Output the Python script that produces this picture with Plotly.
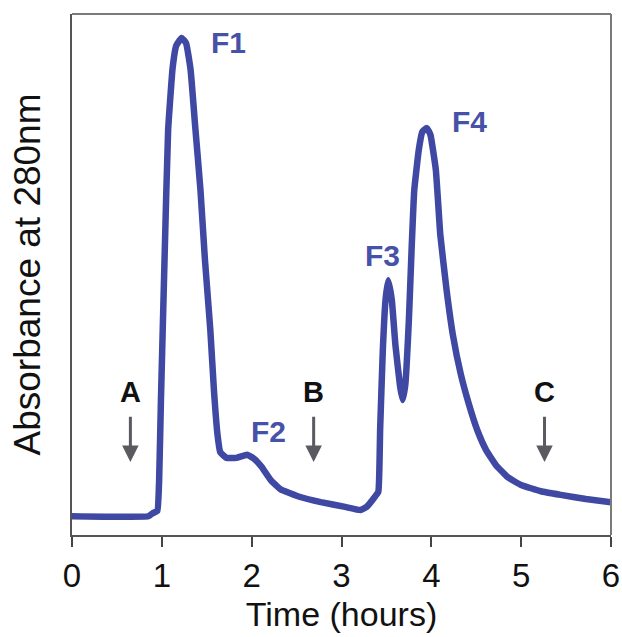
import plotly.graph_objects as go

# Chromatogram trace (time in hours, absorbance in arbitrary units)
time_h = [0.00, 0.85, 0.90, 0.95, 0.97, 0.99, 1.03, 1.07, 1.12, 1.16, 1.22, 1.27, 1.32, 1.37,
          1.43, 1.48, 1.54, 1.58, 1.62, 1.65, 1.72, 1.83, 1.95, 2.03, 2.11, 2.21, 2.32, 2.54,
          2.77, 3.04, 3.21, 3.28, 3.37, 3.41, 3.43, 3.46, 3.49, 3.52, 3.56, 3.60, 3.65, 3.68,
          3.71, 3.75, 3.78, 3.81, 3.86, 3.90, 3.95, 3.99, 4.05, 4.10, 4.17, 4.24, 4.33, 4.42,
          4.51, 4.61, 4.72, 4.85, 5.00, 5.22, 5.44, 5.72, 6.00]
absorbance = [0.036, 0.036, 0.042, 0.046, 0.106, 0.259, 0.528, 0.777, 0.896, 0.939, 0.954, 0.944,
              0.893, 0.787, 0.662, 0.528, 0.393, 0.278, 0.192, 0.159, 0.148, 0.148, 0.154, 0.146,
              0.131, 0.106, 0.088, 0.073, 0.063, 0.054, 0.048, 0.054, 0.073, 0.083, 0.202, 0.355,
              0.451, 0.489, 0.451, 0.365, 0.288, 0.259, 0.288, 0.413, 0.547, 0.662, 0.739, 0.774,
              0.781, 0.768, 0.701, 0.576, 0.470, 0.384, 0.307, 0.250, 0.202, 0.163, 0.134, 0.111,
              0.096, 0.084, 0.077, 0.069, 0.063]

# Fraction labels
frac_labels = ["F1", "F2", "F3", "F4"]
frac_x = [1.74, 2.19, 3.46, 4.42]
frac_y = [0.946, 0.198, 0.537, 0.793]

# Buffer change markers
marker_labels = ["A", "B", "C"]
marker_x = [0.65, 2.69, 5.26]
marker_label_y = 0.274
arrow_tail_y = 0.230
arrow_tip_y = 0.140

x_ticks = [0, 1, 2, 3, 4, 5, 6]

line_color = "#3f48a2"
label_color = "#4652a8"
font_family = "Liberation Sans, Arial, sans-serif"

fig = go.Figure()
fig.add_trace(go.Scatter(x=time_h, y=absorbance, mode="lines",
                         line=dict(color=line_color, width=6.5, shape="spline", smoothing=0.35),
                         showlegend=False, hoverinfo="skip", cliponaxis=False))

annotations = []
for lab, x, y in zip(frac_labels, frac_x, frac_y):
    annotations.append(dict(x=x, y=y, xref="x", yref="y", text="<b>%s</b>" % lab,
                            showarrow=False, font=dict(size=30, color=label_color, family=font_family)))
for lab, x in zip(marker_labels, marker_x):
    annotations.append(dict(x=x, y=marker_label_y, xref="x", yref="y", text="<b>%s</b>" % lab,
                            showarrow=False, font=dict(size=29, color="#111111", family=font_family)))
    annotations.append(dict(x=x, y=arrow_tip_y, ax=x, ay=arrow_tail_y, xref="x", yref="y",
                            axref="x", ayref="y", text="", showarrow=True, arrowhead=2,
                            arrowsize=1.1, arrowwidth=3, arrowcolor="#5a5a60"))

fig.update_layout(
    width=622, height=637,
    margin=dict(l=72, r=11, t=14, b=102, autoexpand=False),
    paper_bgcolor="white", plot_bgcolor="white",
    font=dict(family=font_family, color="#111111"),
    annotations=annotations,
    shapes=[
        dict(type="line", xref="paper", yref="paper", x0=0, x1=1, y0=1, y1=1,
             line=dict(color="#7a7a7a", width=2)),
        dict(type="line", xref="paper", yref="paper", x0=1, x1=1, y0=0, y1=1,
             line=dict(color="#7a7a7a", width=2)),
    ],
)
fig.update_xaxes(range=[0, 6], tickvals=x_ticks, ticktext=[str(v) for v in x_ticks],
                 automargin=False,
                 showgrid=False, zeroline=False, showline=True, linecolor="#555555", linewidth=2,
                 ticks="outside", ticklen=10, tickwidth=2, tickcolor="#444444",
                 tickfont=dict(size=33, color="#111111"),
                 title=dict(text="Time (hours)", font=dict(size=34, color="#111111"), standoff=10))
fig.update_yaxes(range=[0, 1], showgrid=False, zeroline=False, showline=True, linecolor="#555555",
                 linewidth=2, showticklabels=False, ticks="", automargin=False,
                 title=dict(text="Absorbance at 280nm", font=dict(size=37, color="#111111"), standoff=18))

fig.write_html("out.html")
